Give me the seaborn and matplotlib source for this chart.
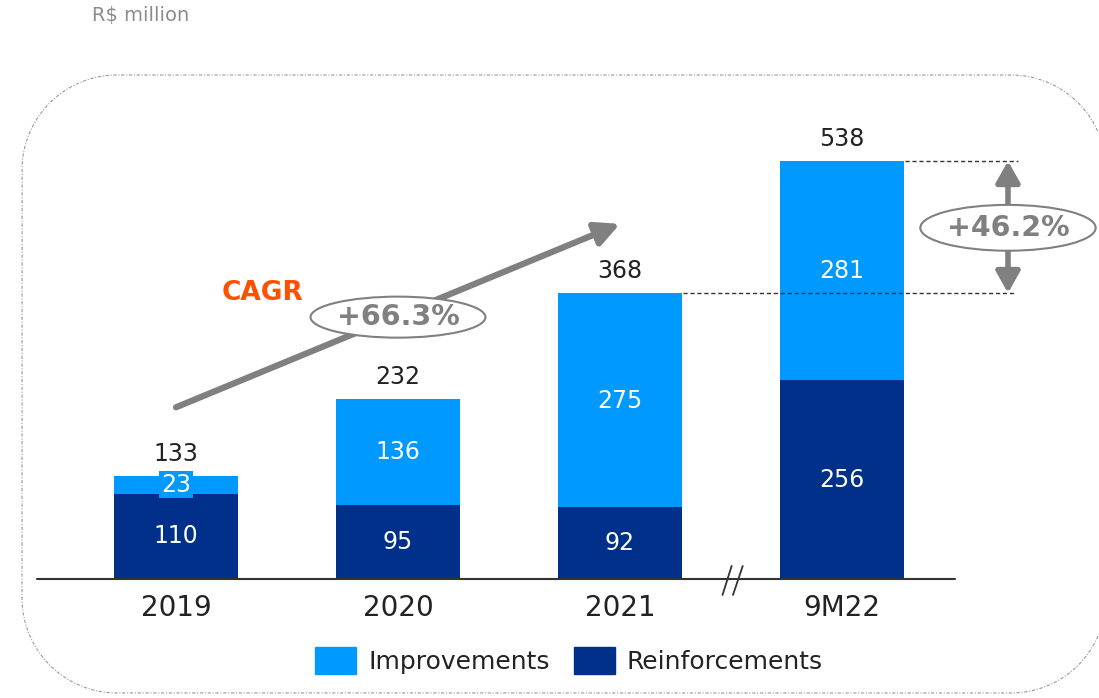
import numpy as np
import pandas as pd
import matplotlib.pyplot as plt
import seaborn as sns
from matplotlib.lines import Line2D
from matplotlib.patches import Ellipse, Patch
from matplotlib.transforms import IdentityTransform

years = ['2019', '2020', '2021', '9M22']
reinforcements = [110, 95, 92, 256]
improvements = [23, 136, 275, 281]
totals = [133, 232, 368, 538]
cagr_label = '+66.3%'
growth_label = '+46.2%'

LIGHT = '#0099FF'
DARK = '#00308A'
GREY = '#808080'
TXT = '#222222'

df = pd.DataFrame({'year': years, 'reinf': reinforcements, 'impr': improvements, 'total': totals})

sns.set_theme(style='white')
plt.rcParams['font.family'] = ['DejaVu Sans']
plt.rcParams['savefig.bbox'] = 'standard'

fig = plt.figure(figsize=(10.99, 6.98), dpi=100)
ax = fig.add_axes([0, 0, 1, 1])

# light bars for the totals, dark bars on top for the reinforcements
sns.barplot(data=df, x='year', y='total', color=LIGHT, saturation=1, width=0.555,
            linewidth=0, ax=ax, zorder=2)
sns.barplot(data=df, x='year', y='reinf', color=DARK, saturation=1, width=0.555,
            linewidth=0, ax=ax, zorder=3)

ax.set_xlim(-0.793, 4.158)
ax.set_ylim(-153.2, 745.2)
ax.axis('off')

# base line with break marks before 9M22
ax.plot([-0.626, 3.509], [0, 0], color='#333333', lw=1.5, zorder=4)
ax.plot([2.462, 2.503], [-20.6, 16.7], color='#333333', lw=1.3, zorder=4)
ax.plot([2.509, 2.553], [-20.6, 16.7], color='#333333', lw=1.3, zorder=4)

for i, row in df.iterrows():
    ax.text(i, row['reinf'] / 2, str(row['reinf']), color='white', fontsize=17,
            ha='center', va='center', zorder=5)
    mid = row['reinf'] + row['impr'] / 2
    if row['impr'] < 40:
        ax.text(i, mid, str(row['impr']), color='white', fontsize=17, ha='center', va='center',
                zorder=5, bbox=dict(boxstyle='square,pad=0.08', fc=LIGHT, ec='none'))
    else:
        ax.text(i, mid, str(row['impr']), color='white', fontsize=17, ha='center', va='center', zorder=5)
    ax.text(i, row['total'] + 28, str(row['total']), color=TXT, fontsize=17,
            ha='center', va='center', zorder=5)
    ax.text(i, -37, row['year'], color=TXT, fontsize=20, ha='center', va='center')

# CAGR arrow
ax.annotate('', xy=(2.0, 457), xytext=(0.0, 221),
            arrowprops=dict(arrowstyle='-|>,head_length=0.9,head_width=0.45', color=GREY,
                            lw=4.5, mutation_scale=16, shrinkA=0, shrinkB=0), zorder=6)
ax.add_patch(Ellipse((1.0, 337), 0.788, 52.8, fc='white', ec=GREY, lw=1.5, zorder=7))
ax.text(1.0, 337, cagr_label, color=GREY, fontsize=20.5, fontweight='bold',
        ha='center', va='center', zorder=8)
ax.text(0.39, 368, 'CAGR', color='#FF5000', fontsize=19, fontweight='bold',
        ha='center', va='center', zorder=8)

# growth 2021 -> 9M22
ax.plot([3.284, 3.793], [totals[3], totals[3]], color='#333333', lw=1, dashes=(3, 2), zorder=4)
ax.plot([2.284, 3.779], [totals[2], totals[2]], color='#333333', lw=1, dashes=(3, 2), zorder=4)
ax.annotate('', xy=(3.748, totals[3]), xytext=(3.748, totals[2]),
            arrowprops=dict(arrowstyle='<|-|>,head_length=0.8,head_width=0.45', color=GREY,
                            lw=4, mutation_scale=16, shrinkA=0, shrinkB=0), zorder=6)
ax.add_patch(Ellipse((3.748, 452), 0.79, 59, fc='white', ec=GREY, lw=1.5, zorder=7))
ax.text(3.748, 452, growth_label, color=GREY, fontsize=20.5, fontweight='bold',
        ha='center', va='center', zorder=8)

# unit note
fig.text(92 / 1099, 1 - 15 / 698, 'R$ million', color='#8C8C8C', fontsize=14, ha='left', va='center')

# rounded dotted frame (pixel coords), open on the right where it leaves the picture
r = 95
left, right, bottom, top = 22, 1106, 5, 623
cut = np.degrees(np.arccos((1098 - (right - r)) / r))
def arc(cx, cy, a0, a1):
    t = np.radians(np.linspace(a0, a1, 40))
    return np.column_stack([cx + r * np.cos(t), cy + r * np.sin(t)])
pts = np.vstack([
    arc(right - r, bottom + r, -cut, -90),
    arc(left + r, bottom + r, -90, -180),
    arc(left + r, top - r, 180, 90),
    arc(right - r, top - r, 90, cut),
])
fig.add_artist(Line2D(pts[:, 0], pts[:, 1], transform=IdentityTransform(), color='#9A9A9A',
                      lw=0.8, linestyle=(0, (3, 1.5, 1, 1.5))))

handles = [Patch(color=LIGHT, label='Improvements'), Patch(color=DARK, label='Reinforcements')]
ax.legend(handles=handles, loc='center', bbox_to_anchor=(0.518, 0.054), bbox_transform=fig.transFigure,
          ncol=2, frameon=False, fontsize=18, handlelength=1.64, handleheight=1.28,
          handletextpad=0.48, columnspacing=0.96, borderpad=0, labelcolor=TXT)

fig.savefig('out.png', dpi=100)
